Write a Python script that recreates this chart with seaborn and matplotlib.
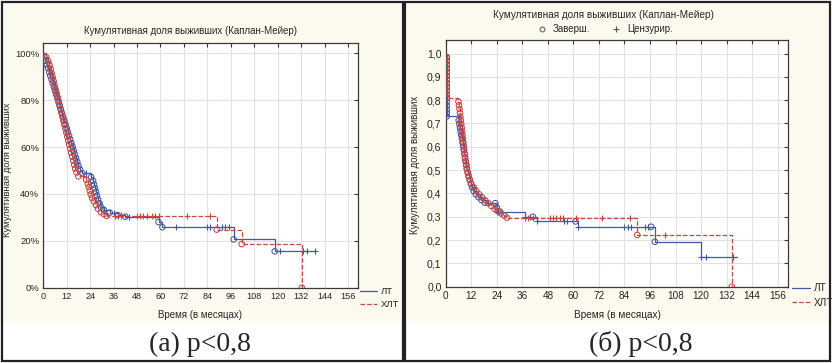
import matplotlib
matplotlib.use("Agg")
import matplotlib.pyplot as plt
import seaborn as sns
import numpy as np
from matplotlib.patches import Rectangle
from matplotlib.lines import Line2D

# ---------------- DATA ----------------
title_text = "Кумулятивная доля выживших (Каплан-Мейер)"
ylabel_text = "Кумулятивная доля выживших"
xlabel_text = "Время (в месяцах)"
series_names = ["ЛТ", "ХЛТ"]
marker_names = ["Заверш.", "Цензурир."]
captions = ["(а) p<0,8", "(б) p<0,8"]
x_ticks = [0, 12, 24, 36, 48, 60, 72, 84, 96, 108, 120, 132, 144, 156]
a_y_ticks = [0, 20, 40, 60, 80, 100]
a_y_labels = ["0%", "20%", "40%", "60%", "80%", "100%"]
b_y_ticks = [0.0, 0.1, 0.2, 0.3, 0.4, 0.5, 0.6, 0.7, 0.8, 0.9, 1.0]
b_y_labels = ["0,0", "0,1", "0,2", "0,3", "0,4", "0,5", "0,6", "0,7", "0,8", "0,9", "1,0"]

# panel (a), survival in %, status 1 = event (o), 0 = censored (+)
a_lt_t = [0.5, 1.2, 1.8, 2.4, 3.0, 3.6, 4.2, 4.8, 5.4, 6.0, 6.6, 7.2, 7.8, 8.4, 9.0, 9.6,
          10.2, 10.8, 11.4, 12.0, 12.6, 13.2, 13.8, 14.4, 15.0, 15.6, 16.2, 16.8, 17.4, 18.0,
          18.8, 20.0, 22.0, 24.5, 25.5, 26.0, 26.5, 27.0, 27.5, 28.0, 28.8, 29.5, 31.0, 34.0,
          36.0, 38.0, 40.0, 42.0, 44.0, 59.0, 61.0, 68.0, 84.0, 85.5, 91.5, 93.0, 95.0, 97.5,
          118.5, 121.3, 133.0, 134.8, 139.0]
a_lt_s = [98.4, 96.8, 95.2, 93.6, 92.0, 90.4, 88.8, 87.2, 85.6, 84.0, 82.4, 80.8, 79.2, 77.6, 76.0, 74.4,
          72.8, 71.2, 69.6, 68.0, 66.4, 64.8, 63.2, 61.6, 60.0, 58.4, 56.8, 55.2, 53.6, 52.0,
          50.4, 48.8, 48.8, 47.2, 45.6, 44.0, 42.4, 40.8, 39.2, 37.6, 36.0, 34.4, 33.2, 32.0,
          32.0, 31.0, 31.0, 30.3, 30.3, 28.0, 25.8, 25.8, 25.8, 25.8, 25.8, 25.8, 25.8, 20.6,
          15.5, 15.5, 15.5, 15.5, 15.5]
a_lt_st = [1] * 32 + [0] + [1] * 11 + [0, 1, 0, 1, 0, 1, 1, 0, 0, 0, 0, 0, 0, 1, 1, 0, 0, 0, 0]

a_hlt_t = [1.5, 2.5, 3.2, 3.8, 4.3, 4.8, 5.3, 5.8, 6.3, 6.8, 7.3, 7.8, 8.3, 8.8, 9.3, 9.8,
           10.3, 10.8, 11.3, 11.8, 12.3, 12.8, 13.3, 13.8, 14.3, 14.8, 15.3, 15.8, 16.3, 17.0,
           18.0, 20.3, 22.0, 22.8, 23.3, 23.8, 24.3, 25.0, 26.0, 27.0, 28.0, 29.5, 31.0, 32.5,
           36.5, 38.5, 40.0, 48.0, 49.5, 51.0, 53.0, 55.5, 57.0, 59.5, 73.5, 85.5, 88.8, 101.6, 132.4]
a_hlt_s = [98.3, 96.6, 94.9, 93.2, 91.5, 89.8, 88.1, 86.4, 84.7, 83.0, 81.3, 79.7, 78.0, 76.3, 74.6, 72.9,
           71.2, 69.5, 67.8, 66.1, 64.4, 62.7, 61.0, 59.3, 57.6, 55.9, 54.2, 52.5, 50.8, 49.2,
           47.5, 47.5, 46.0, 44.4, 42.9, 41.4, 39.8, 38.3, 36.8, 35.2, 33.7, 32.2, 31.4, 30.6,
           30.6, 30.6, 30.6, 30.6, 30.6, 30.6, 30.6, 30.6, 30.6, 30.6, 30.6, 30.6, 24.8, 18.6, 0.0]
a_hlt_st = [1] * 31 + [0] + [1] * 12 + [0] * 12 + [1, 1, 1]

# panel (b), survival as fraction
b_lt_t = [0.5] * 17 + [6.1, 6.4, 6.7, 7.0, 7.3, 7.6, 7.9, 8.2, 8.5, 8.8, 9.1, 9.4, 9.7, 10.0,
          10.4, 10.8, 11.3, 11.8, 12.4, 13.2, 14.2, 15.4, 16.8, 18.4, 20.0, 23.3, 24.0, 24.3,
          25.5, 37.2, 39.5, 41.0, 43.0, 55.5, 57.0, 61.0, 62.0, 84.0, 85.5, 87.0, 93.5, 95.0,
          96.5, 98.3, 120.0, 122.4, 135.0, 136.7]
b_lt_s = [0.984, 0.968, 0.952, 0.936, 0.920, 0.904, 0.888, 0.872, 0.856, 0.840, 0.824, 0.808,
          0.792, 0.776, 0.760, 0.744, 0.730,
          0.714, 0.698, 0.682, 0.666, 0.650, 0.634, 0.618, 0.602, 0.586, 0.570, 0.554, 0.538, 0.522, 0.506,
          0.490, 0.474, 0.458, 0.442, 0.426, 0.410, 0.396, 0.384, 0.372, 0.360, 0.358, 0.358, 0.340, 0.322,
          0.322, 0.300, 0.300, 0.300, 0.280, 0.280, 0.280, 0.280, 0.257, 0.257, 0.257, 0.257, 0.257, 0.257,
          0.257, 0.193, 0.129, 0.129, 0.129, 0.129]
b_lt_st = [1] * 41 + [0, 1, 1, 0, 1, 0, 0, 1, 0, 0, 0, 1, 0, 0, 0, 0, 0, 0, 1, 1, 0, 0, 0]

b_hlt_t = [0.5] * 12 + [6.0, 6.25, 6.5, 6.7, 6.9, 7.1, 7.3, 7.5, 7.7, 7.9, 8.1, 8.3, 8.5, 8.7, 8.9,
           9.1, 9.3, 9.6, 9.9, 10.3, 10.8, 11.4, 12.0, 13.2, 14.4, 15.8, 17.2, 18.6, 20.0, 21.5,
           23.0, 24.5, 26.0, 27.5, 28.8, 37.5, 38.5, 40.8, 49.0, 50.5, 52.0, 53.6, 55.0, 61.4,
           73.3, 86.4, 90.0, 103.0, 134.5]
b_hlt_s = [0.984, 0.968, 0.952, 0.936, 0.920, 0.904, 0.888, 0.872, 0.856, 0.840, 0.824, 0.810,
           0.794, 0.778, 0.762, 0.746, 0.730, 0.714, 0.698, 0.682, 0.666, 0.650, 0.634, 0.618, 0.602,
           0.586, 0.570, 0.554, 0.538, 0.522, 0.506, 0.490, 0.474, 0.458, 0.442, 0.426, 0.410, 0.396,
           0.382, 0.370, 0.358, 0.346, 0.334, 0.324, 0.314, 0.305, 0.296, 0.296, 0.296, 0.296, 0.296,
           0.296, 0.296, 0.296, 0.296, 0.296, 0.296, 0.296, 0.222, 0.222, 0.0]
b_hlt_st = [1] * 47 + [0] * 11 + [1, 0, 1]

# ---------------- STYLE ----------------
sns.set_style("white")
plt.rcParams["font.family"] = ["Liberation Sans", "DejaVu Sans"]

W, H = 832, 363
fig = plt.figure(figsize=(W / 100, H / 100), dpi=100)
fig.patch.set_facecolor("white")

BLUE = "#4657a0"
RED = "#c8473e"
CREAM = "#fcf9ef"
GRID = "#e2e2e2"
SPINE = "#3a3a3a"


def fx(px):
    return px / W


def fy(py):
    return 1 - py / H


def rect(x0, y0, x1, y1, **kw):
    fig.patches.append(Rectangle((fx(x0), fy(y1)), fx(x1) - fx(x0), fy(y0) - fy(y1),
                                 transform=fig.transFigure, figure=fig, **kw))


# cream chart areas and outer boxes
rect(4, 4, 401, 322, facecolor=CREAM, edgecolor="none", zorder=-5)
rect(407, 4, 828, 322, facecolor=CREAM, edgecolor="none", zorder=-5)
rect(2, 2, 403, 361, facecolor="none", edgecolor="#222222", linewidth=1.6, zorder=5)
rect(405, 2, 830, 361, facecolor="none", edgecolor="#222222", linewidth=1.6, zorder=5)


def make_axes(l, t, r, b):
    ax = fig.add_axes([fx(l), fy(b), fx(r) - fx(l), fy(t) - fy(b)])
    ax.set_zorder(2)
    return ax


def draw_km(ax, times, surv, status, start, color, ls):
    xs = [0.0] + list(times)
    ys = [start] + list(surv)
    sns.lineplot(x=xs, y=ys, estimator=None, sort=False, drawstyle="steps-post",
                 color=color, linestyle=ls, linewidth=0.9, ax=ax, zorder=3)
    ev_t = [t for t, s in zip(times, status) if s == 1]
    ev_s = [v for v, s in zip(surv, status) if s == 1]
    ce_t = [t for t, s in zip(times, status) if s == 0]
    ce_s = [v for v, s in zip(surv, status) if s == 0]
    n0 = len(ax.collections)
    sns.scatterplot(x=ev_t, y=ev_s, marker="o", s=16, color=color, linewidth=0.75, ax=ax, zorder=4)
    for c in ax.collections[n0:]:
        c.set_facecolor("none")
        c.set_edgecolor(color)
    if ce_t:
        sns.scatterplot(x=ce_t, y=ce_s, marker="+", s=24, color=color, linewidth=0.8, ax=ax, zorder=4)


def style_axes(ax, ylim, yticks, ylabels, xfs, yfs):
    ax.set_facecolor("white")
    ax.set_xlim(0, 161)
    ax.set_ylim(*ylim)
    ax.set_xticks(x_ticks)
    ax.set_xticklabels([str(v) for v in x_ticks], fontsize=xfs)
    ax.set_yticks(yticks)
    ax.set_yticklabels(ylabels, fontsize=yfs)
    ax.grid(True, color=GRID, linewidth=0.8)
    ax.set_axisbelow(True)
    for sp in ax.spines.values():
        sp.set_visible(True)
        sp.set_color(SPINE)
        sp.set_linewidth(0.9)
    ax.tick_params(direction="in", length=3, width=0.8, color=SPINE,
                   top=True, right=True, labeltop=False, labelright=False, pad=3)
    ax.set_xlabel("")
    ax.set_ylabel("")


# ---------------- PANEL A ----------------
axa = make_axes(43.3, 42.7, 357.7, 287.7)
draw_km(axa, a_lt_t, a_lt_s, a_lt_st, 100.0, BLUE, "-")
draw_km(axa, a_hlt_t, a_hlt_s, a_hlt_st, 100.0, RED, "--")
style_axes(axa, (0, 104.5), a_y_ticks, a_y_labels, 6.6, 6.8)

fig.text(fx(190), fy(31.5), title_text, ha="center", va="center", fontsize=7)
fig.text(fx(8), fy(170), ylabel_text, ha="center", va="center", rotation=90, fontsize=6.8)
fig.text(fx(200), fy(315), xlabel_text, ha="center", va="center", fontsize=7)

# ---------------- PANEL B ----------------
axb = make_axes(445.7, 40.0, 788.3, 286.7)
draw_km(axb, b_lt_t, b_lt_s, b_lt_st, 1.0, BLUE, "-")
draw_km(axb, b_hlt_t, b_hlt_s, b_hlt_st, 1.0, RED, "--")
style_axes(axb, (0, 1.058), b_y_ticks, b_y_labels, 7.2, 7.6)

fig.text(fx(603), fy(15), title_text, ha="center", va="center", fontsize=7.2)
fig.text(fx(415), fy(165), ylabel_text, ha="center", va="center", rotation=90, fontsize=7)
fig.text(fx(617), fy(315), xlabel_text, ha="center", va="center", fontsize=7.2)

# marker legend of panel b
mk_handles = [Line2D([], [], marker="o", linestyle="none", markerfacecolor="none",
                     markeredgecolor="#555555", markersize=3.5, markeredgewidth=0.7),
              Line2D([], [], marker="+", linestyle="none", color="#555555",
                     markersize=4.5, markeredgewidth=0.8)]
fig.legend(mk_handles, marker_names, loc="center", bbox_to_anchor=(fx(605), fy(29)),
           ncol=2, frameon=False, fontsize=7, handletextpad=0.6, columnspacing=2.2,
           handlelength=1.0, borderaxespad=0, borderpad=0)

# series legends (bottom right of each chart)
ser_handles = [Line2D([], [], color=BLUE, linestyle="-", linewidth=0.9),
               Line2D([], [], color=RED, linestyle="--", linewidth=0.9)]
fig.legend(ser_handles, series_names, loc="upper left", bbox_to_anchor=(fx(360), fy(287)),
           frameon=False, fontsize=6.8, handlelength=1.8, handletextpad=0.4,
           labelspacing=0.45, borderaxespad=0, borderpad=0)
fig.legend(ser_handles, series_names, loc="upper left", bbox_to_anchor=(fx(792), fy(283)),
           frameon=False, fontsize=7.2, handlelength=1.8, handletextpad=0.4,
           labelspacing=0.45, borderaxespad=0, borderpad=0)

# captions
fig.text(fx(200), fy(344), captions[0], ha="center", va="center", fontsize=20,
         family=["Liberation Serif", "DejaVu Serif"])
fig.text(fx(641), fy(344), captions[1], ha="center", va="center", fontsize=20,
         family=["Liberation Serif", "DejaVu Serif"])

fig.savefig("out.png", dpi=100)
